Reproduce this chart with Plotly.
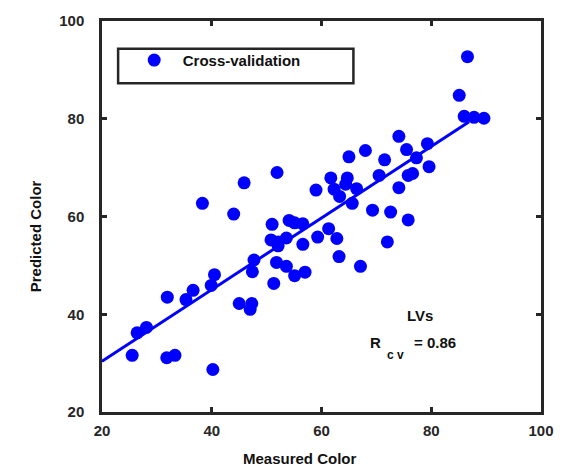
import plotly.graph_objects as go

# Measured (x) vs predicted (y) colour, cross-validation
measured = [86.6, 85.1, 86.0, 87.8, 89.6, 74.1, 68.0, 65.0, 75.5, 79.3,
            71.5, 77.3, 79.6, 70.5, 75.8, 76.6, 61.7, 64.7, 62.3, 64.4,
            66.4, 63.3, 59.0, 74.1, 65.6, 69.3, 72.6, 75.8, 56.6, 61.3,
            59.3, 62.8, 56.6, 72.0, 63.2, 67.1, 57.0, 38.3, 44.0, 51.0,
            54.1, 55.1, 50.8, 52.1, 53.6, 52.1, 47.7, 47.4, 51.8, 53.6,
            55.1, 51.3, 40.5, 39.9, 36.6, 35.3, 31.9, 45.0, 47.3, 47.0,
            28.1, 26.4, 25.5, 31.8, 33.3, 40.2, 45.9, 51.9]
predicted = [92.7, 84.8, 80.5, 80.3, 80.1, 76.4, 73.5, 72.2, 73.7, 74.9,
             71.6, 72.0, 70.2, 68.4, 68.4, 68.8, 67.9, 67.9, 65.6, 66.6,
             65.7, 64.1, 65.4, 65.9, 62.7, 61.3, 60.9, 59.3, 58.5, 57.5,
             55.8, 55.5, 54.3, 54.8, 51.8, 49.8, 48.6, 62.7, 60.5, 58.4,
             59.2, 58.7, 55.2, 54.8, 55.6, 54.0, 51.1, 48.7, 50.6, 49.8,
             47.9, 46.3, 48.1, 45.9, 44.9, 43.0, 43.5, 42.2, 42.2, 41.0,
             37.3, 36.2, 31.6, 31.1, 31.6, 28.7, 66.9, 69.0]

# Regression line end points
fit_x = [20, 86.9]
fit_y = [30.4, 79.4]

tick_vals = [20, 40, 60, 80, 100]
r_cv_label = "= 0.86"

FONT = "Liberation Sans"
AX = "#262626"
BLUE = "#0000FF"

fig = go.Figure()
fig.add_trace(go.Scatter(x=measured, y=predicted, mode="markers",
                         name="Cross-validation",
                         marker=dict(color=BLUE, size=13, line=dict(width=0))))
fig.add_trace(go.Scatter(x=fit_x, y=fit_y, mode="lines", showlegend=False,
                         line=dict(color=BLUE, width=3)))

axis_common = dict(range=[20, 100], tickvals=tick_vals, showline=True,
                   linewidth=2.5, linecolor=AX, mirror="ticks", ticks="inside",
                   ticklen=5, tickwidth=2.5, tickcolor=AX, showgrid=False,
                   zeroline=False,
                   tickfont=dict(family=FONT, size=15, color=AX, weight="bold"))

fig.update_xaxes(**axis_common, ticklabelstandoff=3)
fig.update_yaxes(**axis_common, ticklabelstandoff=12)

ann_font = dict(family=FONT, size=15, color="#111111", weight="bold")
fig.update_layout(
    width=566, height=472,
    margin=dict(l=102, r=19, t=17, b=60),
    paper_bgcolor="white", plot_bgcolor="white",
    showlegend=True,
    legend=dict(x=0.054, y=0.9415, xanchor="left", yanchor="top",
                bgcolor="rgba(0,0,0,0)", borderwidth=0, itemwidth=47,
                font=dict(family=FONT, size=15, color="#111111", weight="bold")),
    shapes=[dict(type="rect", xref="paper", yref="paper",
                 x0=0.0367, x1=0.5727, y0=0.8407, y1=0.929,
                 line=dict(color=AX, width=2.5), fillcolor="rgba(0,0,0,0)")],
    annotations=[
        dict(text="Predicted Color", xref="paper", yref="paper", x=-0.1507,
             y=0.449, textangle=-90, showarrow=False, font=ann_font,
             xanchor="center", yanchor="middle"),
        dict(text="Measured Color", xref="paper", yref="paper", x=0.45,
             y=-0.120, showarrow=False, font=ann_font,
             xanchor="center", yanchor="middle"),
        dict(text="LVs", xref="paper", yref="paper", x=0.724, y=0.2465,
             showarrow=False, font=ann_font, xanchor="center", yanchor="middle"),
        dict(text="R", xref="paper", yref="paper", x=0.624, y=0.1765,
             showarrow=False, font=ann_font, xanchor="center", yanchor="middle"),
        dict(text="c v", xref="paper", yref="paper", x=0.6676, y=0.147,
             showarrow=False, font=dict(family=FONT, size=12, color="#111111",
                                        weight="bold"),
             xanchor="center", yanchor="middle"),
        dict(text=r_cv_label, xref="paper", yref="paper", x=0.758, y=0.1765,
             showarrow=False, font=ann_font, xanchor="center", yanchor="middle"),
    ],
)

fig.write_html("out.html")
